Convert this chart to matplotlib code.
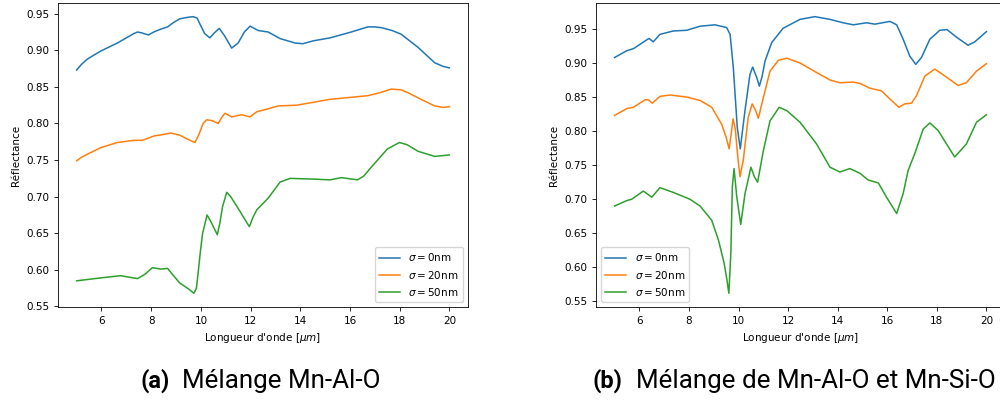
import matplotlib.pyplot as plt
import numpy as np

plt.rcParams.update({'font.size': 7.5, 'lines.linewidth': 1.1,
                     'axes.linewidth': 0.6, 'xtick.major.width': 0.6,
                     'ytick.major.width': 0.6, 'xtick.major.size': 2.6,
                     'ytick.major.size': 2.6})

# (a) Mn-Al-O : longueur d'onde (um) / reflectance
a_x0 = [5.0, 5.2, 5.43, 5.97, 6.64, 7.31, 7.45, 7.6, 7.89, 8.1, 8.39, 8.66, 8.9, 9.15,
        9.45, 9.69, 9.85, 9.96, 10.15, 10.36, 10.55, 10.74, 10.95, 11.24, 11.5, 11.75,
        11.98, 12.31, 12.71, 13.19, 13.79, 14.1, 14.53, 15.2, 16.05, 16.72, 17.0,
        17.26, 17.7, 18.06, 18.74, 19.41, 19.75, 20.0]
a_y0 = [0.873, 0.881, 0.888, 0.899, 0.910, 0.923, 0.925, 0.924, 0.921, 0.925, 0.929,
        0.932, 0.938, 0.943, 0.945, 0.946, 0.944, 0.936, 0.923, 0.917, 0.924, 0.930,
        0.920, 0.903, 0.910, 0.925, 0.933, 0.927, 0.925, 0.916, 0.910, 0.909, 0.913,
        0.917, 0.925, 0.932, 0.932, 0.931, 0.927, 0.922, 0.904, 0.883, 0.878, 0.876]

a_x20 = [5.0, 5.2, 5.43, 5.97, 6.64, 7.31, 7.65, 8.12, 8.5, 8.79, 9.15, 9.5, 9.76,
         9.92, 10.09, 10.23, 10.45, 10.7, 10.85, 10.97, 11.24, 11.64, 11.98, 12.25,
         12.7, 13.12, 13.86, 15.2, 16.72, 17.2, 17.66, 18.06, 18.4, 18.74, 19.41,
         19.75, 20.0]
a_y20 = [0.749, 0.754, 0.758, 0.767, 0.774, 0.777, 0.777, 0.783, 0.785, 0.787, 0.784,
         0.778, 0.774, 0.785, 0.800, 0.805, 0.804, 0.800, 0.809, 0.814, 0.809, 0.812,
         0.809, 0.816, 0.820, 0.824, 0.825, 0.833, 0.838, 0.842, 0.847, 0.846, 0.841,
         0.835, 0.824, 0.822, 0.823]

a_x50 = [5.0, 5.97, 6.77, 7.45, 7.75, 8.05, 8.39, 8.66, 8.9, 9.15, 9.5, 9.72, 9.82,
         9.89, 9.98, 10.07, 10.25, 10.43, 10.66, 10.77, 10.87, 11.04, 11.2, 11.5, 11.75,
         11.95, 12.1, 12.25, 12.71, 13.19, 13.59, 14.53, 15.2, 15.65, 16.3, 16.55, 16.85,
         17.5, 17.99, 18.3, 18.74, 19.41, 20.0]
a_y50 = [0.585, 0.589, 0.592, 0.588, 0.594, 0.603, 0.601, 0.602, 0.592, 0.582, 0.574,
         0.568, 0.575, 0.596, 0.625, 0.650, 0.675, 0.664, 0.648, 0.665, 0.686, 0.706,
         0.700, 0.684, 0.670, 0.659, 0.672, 0.682, 0.698, 0.720, 0.725, 0.724, 0.723,
         0.726, 0.723, 0.728, 0.740, 0.765, 0.774, 0.771, 0.762, 0.755, 0.757]

# (b) Mn-Al-O + Mn-Si-O
b_x0 = [5.0, 5.49, 5.76, 6.3, 6.39, 6.56, 6.83, 7.37, 7.91, 8.45, 9.05, 9.52, 9.66,
        9.79, 9.95, 10.07, 10.26, 10.46, 10.57, 10.74, 10.84, 10.95, 11.07, 11.34,
        11.8, 12.48, 13.08, 13.69, 14.22, 14.63, 15.16, 15.5, 16.11, 16.38, 16.64,
        16.91, 17.15, 17.38, 17.72, 18.12, 18.41, 18.79, 19.26, 19.53, 20.0]
b_y0 = [0.908, 0.918, 0.921, 0.934, 0.936, 0.931, 0.942, 0.947, 0.948, 0.954, 0.956,
        0.952, 0.942, 0.893, 0.805, 0.774, 0.830, 0.883, 0.894, 0.878, 0.866, 0.880,
        0.903, 0.930, 0.951, 0.964, 0.968, 0.964, 0.959, 0.956, 0.959, 0.957, 0.961,
        0.956, 0.935, 0.910, 0.898, 0.908, 0.935, 0.948, 0.949, 0.938, 0.926, 0.931,
        0.946]

b_x20 = [5.0, 5.49, 5.76, 6.23, 6.36, 6.52, 6.83, 7.24, 7.91, 8.45, 8.92, 9.32, 9.5,
         9.62, 9.7, 9.78, 9.87, 9.97, 10.06, 10.19, 10.39, 10.55, 10.69, 10.8, 11.0,
         11.27, 11.61, 11.95, 12.48, 13.15, 13.69, 14.09, 14.63, 14.9, 15.3, 15.77,
         16.11, 16.47, 16.71, 16.98, 17.18, 17.52, 17.92, 18.32, 18.86, 19.19, 19.6,
         20.0]
b_y20 = [0.823, 0.833, 0.835, 0.846, 0.846, 0.841, 0.851, 0.853, 0.850, 0.845, 0.835,
         0.810, 0.791, 0.774, 0.795, 0.818, 0.803, 0.762, 0.733, 0.757, 0.820, 0.840,
         0.830, 0.819, 0.849, 0.888, 0.904, 0.907, 0.900, 0.886, 0.875, 0.871, 0.872,
         0.870, 0.863, 0.859, 0.847, 0.835, 0.840, 0.841, 0.852, 0.881, 0.891, 0.881,
         0.867, 0.871, 0.888, 0.899]

b_x50 = [5.0, 5.49, 5.69, 6.16, 6.5, 6.83, 7.37, 8.04, 8.45, 8.92, 9.19, 9.42, 9.53,
         9.61, 9.69, 9.75, 9.82, 9.93, 10.09, 10.26, 10.5, 10.64, 10.77, 11.0, 11.27,
         11.64, 11.95, 12.48, 13.15, 13.69, 14.09, 14.49, 14.9, 15.24, 15.64, 15.97,
         16.38, 16.64, 16.84, 17.11, 17.45, 17.72, 18.05, 18.72, 19.19, 19.6, 20.0]
b_y50 = [0.690, 0.698, 0.700, 0.712, 0.703, 0.717, 0.710, 0.700, 0.690, 0.669, 0.640,
         0.606, 0.582, 0.562, 0.621, 0.718, 0.745, 0.703, 0.663, 0.708, 0.747, 0.733,
         0.725, 0.771, 0.815, 0.835, 0.830, 0.813, 0.781, 0.747, 0.740, 0.745, 0.738,
         0.728, 0.724, 0.703, 0.679, 0.708, 0.742, 0.767, 0.803, 0.812, 0.801, 0.762,
         0.781, 0.813, 0.824]

labels = [r'$\sigma = 0$nm', r'$\sigma = 20$nm', r'$\sigma = 50$nm']
cap_tags = ['(a)', '(b)']
cap_texts = ['Mélange Mn-Al-O', 'Mélange de Mn-Al-O et Mn-Si-O']

fig = plt.figure(figsize=(10, 4.03), dpi=100)
ax1 = fig.add_axes([0.058, 0.238, 0.410, 0.755])
ax2 = fig.add_axes([0.596, 0.238, 0.409, 0.755])

for ax, series, loc in [(ax1, [(a_x0, a_y0), (a_x20, a_y20), (a_x50, a_y50)], 'lower right'),
                        (ax2, [(b_x0, b_y0), (b_x20, b_y20), (b_x50, b_y50)], 'lower left')]:
    for (xs, ys), lab in zip(series, labels):
        ax.plot(xs, ys, label=lab)
    ax.set_xlabel("Longueur d'onde [$\\mu m$]")
    ax.set_ylabel('Réflectance')
    ax.set_xticks([6, 8, 10, 12, 14, 16, 18, 20])
    ax.legend(loc=loc, fontsize=7.5)

# légendes des sous-figures (style LaTeX)
for x_tag, x_txt, tag, txt in [(0.141, 0.182, cap_tags[0], cap_texts[0]),
                               (0.592, 0.636, cap_tags[1], cap_texts[1])]:
    fig.text(x_tag, 0.037, tag, ha='left', va='baseline', fontsize=17,
             fontweight='bold', family='Roboto')
    fig.text(x_txt, 0.037, txt, ha='left', va='baseline', fontsize=18.7, family='Roboto')

fig.savefig('out.png', dpi=100)
